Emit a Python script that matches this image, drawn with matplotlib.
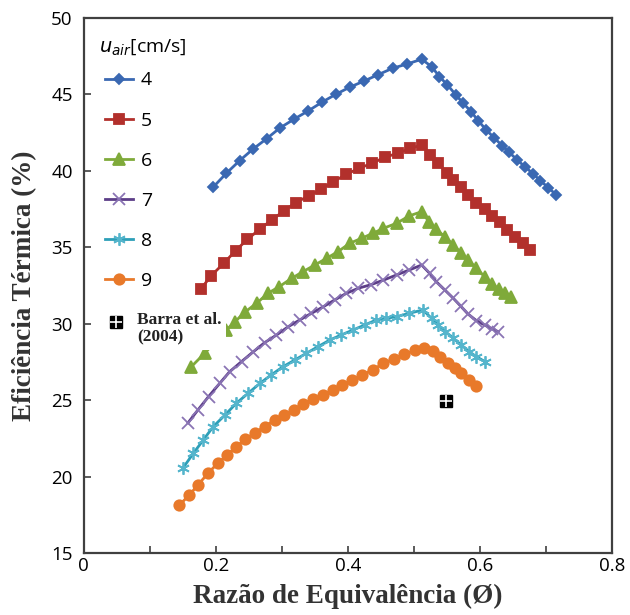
import numpy as np
import matplotlib.pyplot as plt
from matplotlib.ticker import MultipleLocator

# u_air = 4 cm/s
x4 = [0.196, 0.216, 0.236, 0.256, 0.277, 0.297, 0.319, 0.340, 0.361, 0.382, 0.403, 0.425, 0.446, 0.468, 0.490, 0.512,
      0.527, 0.539, 0.551, 0.564, 0.575, 0.587, 0.598, 0.610, 0.622, 0.634, 0.645, 0.657, 0.669, 0.681, 0.692, 0.704, 0.716]
y4 = [38.93, 39.84, 40.66, 41.41, 42.10, 42.80, 43.39, 43.92, 44.49, 45.01, 45.47, 45.88, 46.29, 46.71, 46.99, 47.30,
      46.82, 46.16, 45.62, 44.96, 44.42, 43.87, 43.26, 42.67, 42.15, 41.65, 41.20, 40.70, 40.25, 39.80, 39.35, 38.90, 38.42]
# u_air = 5 cm/s
x5 = [0.177, 0.193, 0.213, 0.230, 0.248, 0.267, 0.285, 0.303, 0.321, 0.341, 0.360, 0.378, 0.398, 0.417, 0.437, 0.456, 0.476, 0.495, 0.513,
      0.525, 0.537, 0.550, 0.560, 0.571, 0.582, 0.595, 0.608, 0.619, 0.630, 0.642, 0.653, 0.665, 0.676]
y5 = [32.25, 33.14, 33.99, 34.78, 35.52, 36.20, 36.79, 37.37, 37.92, 38.36, 38.81, 39.29, 39.77, 40.17, 40.49, 40.89, 41.15, 41.48, 41.69,
      41.04, 40.49, 39.88, 39.40, 38.92, 38.42, 37.92, 37.48, 37.05, 36.62, 36.15, 35.70, 35.25, 34.82]
# u_air = 6 cm/s
x6 = [0.163, 0.183, 0.200, 0.216, 0.229, 0.245, 0.262, 0.279, 0.296, 0.315, 0.332, 0.350, 0.368, 0.385, 0.403, 0.421, 0.438, 0.454, 0.474, 0.493, 0.512,
      0.523, 0.534, 0.547, 0.560, 0.571, 0.582, 0.594, 0.608, 0.619, 0.629, 0.639, 0.648]
y6 = [27.19, 28.06, 28.85, 29.59, 30.13, 30.79, 31.34, 31.99, 32.42, 32.97, 33.40, 33.84, 34.28, 34.71, 35.26, 35.59, 35.91, 36.24, 36.57, 37.05, 37.33,
      36.67, 36.18, 35.69, 35.15, 34.65, 34.17, 33.67, 33.04, 32.60, 32.25, 31.98, 31.77]
# u_air = 7 cm/s
x7 = [0.158, 0.173, 0.189, 0.206, 0.221, 0.239, 0.257, 0.274, 0.292, 0.310, 0.327, 0.345, 0.363, 0.380, 0.398, 0.416, 0.435, 0.454, 0.474, 0.493, 0.512,
      0.524, 0.534, 0.547, 0.560, 0.571, 0.582, 0.595, 0.608, 0.618, 0.628]
y7 = [23.52, 24.36, 25.23, 26.10, 26.86, 27.52, 28.17, 28.76, 29.26, 29.81, 30.24, 30.68, 31.11, 31.55, 31.99, 32.32, 32.55, 32.85, 33.19, 33.51, 33.84,
      33.30, 32.75, 32.21, 31.66, 31.16, 30.64, 30.20, 29.90, 29.68, 29.48]
# u_air = 8 cm/s
x8 = [0.150, 0.166, 0.181, 0.196, 0.214, 0.231, 0.249, 0.267, 0.284, 0.302, 0.320, 0.337, 0.355, 0.373, 0.390, 0.408, 0.426, 0.443, 0.458, 0.474, 0.493, 0.514,
      0.527, 0.537, 0.548, 0.560, 0.572, 0.584, 0.595, 0.608]
y8 = [20.54, 21.52, 22.39, 23.26, 24.03, 24.79, 25.45, 26.10, 26.65, 27.19, 27.63, 28.06, 28.50, 28.94, 29.26, 29.59, 29.92, 30.24, 30.35, 30.46, 30.68, 30.90,
      30.35, 29.92, 29.48, 29.05, 28.61, 28.17, 27.84, 27.52]
# u_air = 9 cm/s
x9 = [0.145, 0.160, 0.173, 0.188, 0.203, 0.217, 0.231, 0.245, 0.259, 0.274, 0.289, 0.304, 0.318, 0.332, 0.347, 0.362, 0.377, 0.392, 0.407, 0.422, 0.438, 0.454, 0.470, 0.485, 0.502, 0.515,
      0.529, 0.540, 0.552, 0.563, 0.572, 0.584, 0.594]
y9 = [18.14, 18.80, 19.45, 20.21, 20.87, 21.41, 21.95, 22.44, 22.87, 23.26, 23.70, 24.03, 24.36, 24.75, 25.06, 25.34, 25.66, 25.99, 26.32, 26.64, 27.00, 27.40, 27.70, 28.00, 28.25, 28.40,
      28.24, 27.84, 27.45, 27.08, 26.76, 26.32, 25.93]

# Barra et al. (2004)
barra_x = [0.549]
barra_y = [24.95]
barra_key_x = [0.0485]
barra_key_y = [30.13]

labels = ['4', '5', '6', '7', '8', '9']
xs_all = [x4, x5, x6, x7, x8, x9]
ys_all = [y4, y5, y6, y7, y8, y9]
colors = ['#3a68b2', '#b2302c', '#7faa3a', '#5c3d88', '#2d9fb8', '#e8792a']
mk_colors = ['#3a68b2', '#b2302c', '#7faa3a', '#8a74b4', '#55b5cc', '#e8792a']
markers = ['D', 's', '^', 'x', (6, 2, 0), 'o']
msizes = [5.5, 7.5, 8, 8, 9, 7.5]

fig = plt.figure(figsize=(6.3, 6.15), dpi=100)
ax = fig.add_axes([0.133, 0.1008, 0.838, 0.870])

handles = []
for xs, ys, lab, col, mc, mk, ms in zip(xs_all, ys_all, labels, colors, mk_colors, markers, msizes):
    h, = ax.plot(xs, ys, color=col, lw=2, marker=mk, ms=ms, mew=1.3, mec=mc, mfc=mc, label=lab)
    handles.append(h)

for bx, by in [(barra_x, barra_y), (barra_key_x, barra_key_y)]:
    ax.plot(bx, by, ls='none', marker='s', ms=8.5, color='black', zorder=6)
    ax.plot(bx, by, ls='none', marker='+', ms=8.5, mew=1.2, color='white', zorder=7)

ax.text(0.081, 30.75, 'Barra et al.\n(2004)', family='Liberation Serif', fontweight='bold',
        fontsize=12.5, color='#222222', va='top', ha='left', linespacing=1.1, zorder=5,
        bbox=dict(facecolor='white', edgecolor='none', pad=3))

leg = ax.legend(handles=handles, loc='upper left', bbox_to_anchor=(0.040, 0.900),
                frameon=False, fontsize=14, handlelength=1.45, handletextpad=0.4,
                labelspacing=1.14, borderaxespad=0.0, borderpad=0.0)
for t in leg.get_texts():
    t.set_family('Open Sans')
ax.text(0.028, 0.946, '$u_{air}$[cm/s]', transform=ax.transAxes, fontsize=14,
        family='Open Sans', va='center', ha='left')

ax.set_xlim(0, 0.8)
ax.set_ylim(15, 50)
ax.xaxis.set_minor_locator(MultipleLocator(0.1))
ax.yaxis.set_major_locator(MultipleLocator(5))
ax.set_xticks([0, 0.2, 0.4, 0.6, 0.8])
ax.set_xticklabels(['0', '0.2', '0.4', '0.6', '0.8'])
ax.tick_params(which='both', direction='in', color='#404040', width=1.2, labelsize=13.5, length=5)
ax.tick_params(axis='y', pad=8)
ax.tick_params(axis='x', pad=3)
for lbl in ax.get_xticklabels() + ax.get_yticklabels():
    lbl.set_family('Open Sans')
for sp in ax.spines.values():
    sp.set_color('#404040')
    sp.set_linewidth(1.6)

ax.set_xlabel('Razão de Equivalência (Ø)', family='Liberation Serif', fontweight='bold', fontsize=19.5, color='#333333', labelpad=6)
ax.set_ylabel('Eficiência Térmica (%)', family='Liberation Serif', fontweight='bold', fontsize=19.5, color='#333333', labelpad=10)

fig.savefig('out.png', dpi=100)
